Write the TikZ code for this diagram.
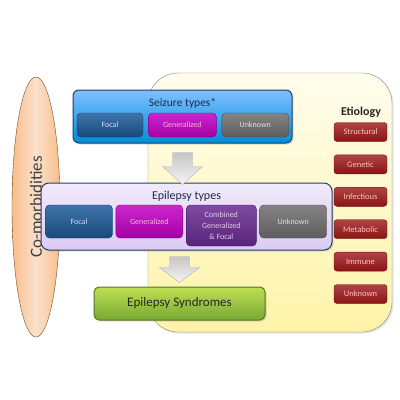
\documentclass[tikz,border=0pt]{standalone}
\usepackage{fontspec}
\setmainfont{Carlito}
\usetikzlibrary{positioning,calc,shapes.geometric,shadows}

\definecolor{navyline}{HTML}{1F3F70}
\definecolor{titletext}{HTML}{1C2B50}
\definecolor{focalblue}{HTML}{1E5C9A}
\definecolor{genmagenta}{HTML}{C200C2}
\definecolor{unkgray}{HTML}{6E6E6E}
\definecolor{combpurple}{HTML}{682A90}
\definecolor{causered}{HTML}{9A1616}
\definecolor{synggreen}{HTML}{8CC63A}
\definecolor{peach}{HTML}{F7C9A2}
\definecolor{lavender}{HTML}{DCCBF3}
\definecolor{paleyellow}{HTML}{FFF3A8}

\tikzstyle{group} = [rectangle, rounded corners=6pt, draw=navyline, line width=1pt, drop shadow={opacity=0.25, shadow xshift=1.5pt, shadow yshift=-1.5pt}]
\tikzstyle{grouptitle} = [text=titletext, font=\fontsize{11.5}{14}\selectfont]
\tikzstyle{subtype} = [rectangle, rounded corners=4pt, minimum height=24pt, text centered, inner sep=1pt, font=\fontsize{8}{11}\selectfont]
\tikzstyle{cause} = [rectangle, rounded corners=3pt, minimum width=53pt, minimum height=19pt, draw=causered!70!black, top color=causered!80!white, bottom color=causered!90!black, text=red!25!white, font=\fontsize{8.5}{10}\selectfont, inner sep=1pt]
\tikzstyle{blockarrow} = [draw=gray!60, top color=gray!45, bottom color=gray!8]

\begin{document}
\begin{tikzpicture}[x=1pt, y=-1pt, node distance=13pt]
\useasboundingbox (0,0) rectangle (400,400);
\fill [white] (0,0) rectangle (400,400);

% co-morbidities and etiology background
\node (comorb) [ellipse, minimum width=48pt, minimum height=260pt, inner sep=0pt, draw=brown!60!black, left color=peach!85!orange, right color=peach!85!orange, middle color=peach!55!white, text=black!75, font=\fontsize{17}{20}\selectfont] at (36,207) {\rotatebox{90}{Co-morbidities}};
\node (area) [rectangle, rounded corners=30pt, minimum width=244pt, minimum height=259pt, draw=gray!70!brown, top color=paleyellow!20!white, bottom color=paleyellow, drop shadow={opacity=0.2, shadow xshift=1.5pt, shadow yshift=-1.5pt}] at (270,202.5) {};

% seizure types
\node (seizure) [group, minimum width=219pt, minimum height=53pt, top color=cyan!50!blue!50!white, bottom color=blue!35!cyan!85!black] at (182.5,116.5) {};
\node (stitle) [grouptitle] at (182.5,103) {Seizure types*};
\node (sfocal) [subtype, minimum width=66pt, draw=focalblue!70!black, top color=focalblue!85!white, bottom color=focalblue!80!black, text=blue!15!white] at (110,125) {Focal};
\node (sgen) [subtype, minimum width=68pt, right=5pt of sfocal, draw=genmagenta!70!black, top color=genmagenta!85!white, bottom color=genmagenta!85!black, text=magenta!30!white] {Generalized};
\node (sunk) [subtype, minimum width=67pt, right=5pt of sgen, draw=unkgray!70!black, top color=unkgray!85!white, bottom color=unkgray!85!black, text=black!12] {Unknown};

% epilepsy types
\node (epilepsy) [group, rounded corners=8pt, minimum width=291pt, minimum height=67pt, top color=lavender!40!white, bottom color=lavender] at (186.5,216.5) {};
\node (etitle) [grouptitle, font=\fontsize{12}{14}\selectfont] at (186.5,196) {Epilepsy types};
\node (efocal) [subtype, minimum width=67pt, minimum height=33pt, draw=focalblue!70!black, top color=focalblue!85!white, bottom color=focalblue!80!black, text=blue!15!white] at (79,221.5) {Focal};
\node (egen) [subtype, minimum width=67pt, minimum height=33pt, right=3pt of efocal, draw=genmagenta!70!black, top color=genmagenta!85!white, bottom color=genmagenta!85!black, text=magenta!30!white] {Generalized};
\node (ecomb) [subtype, minimum width=70pt, minimum height=41pt, align=center, right=3pt of egen.north east, anchor=north west, draw=combpurple!70!black, top color=combpurple!85!white, bottom color=combpurple!85!black, text=violet!20!white] {Combined\\Generalized\\\& Focal};
\node (eunk) [subtype, minimum width=67pt, minimum height=33pt, right=3pt of ecomb.north east, anchor=north west, draw=unkgray!70!black, top color=unkgray!85!white, bottom color=unkgray!85!black, text=black!12] {Unknown};

% epilepsy syndromes
\node (syndromes) [group, rounded corners=5pt, draw=synggreen!60!black, minimum width=171pt, minimum height=33pt, top color=synggreen!70!yellow!80!white, bottom color=synggreen!85!black, text=black!85, font=\fontsize{13}{15}\selectfont] at (179.5,303.5) {Epilepsy Syndromes};

% etiology
\node (etiology) [text=black!85, font=\bfseries\fontsize{12}{14}\selectfont] at (361,112) {Etiology};
\node (structural) [cause] at (360.5,132) {Structural};
\node (genetic) [cause, below=of structural] {Genetic};
\node (infectious) [cause, below=of genetic] {Infectious};
\node (metabolic) [cause, below=of infectious] {Metabolic};
\node (immune) [cause, below=of metabolic] {Immune};
\node (unknown) [cause, below=of immune] {Unknown};

% block arrows
\draw [blockarrow] ($(seizure.south)+(-10,9)$) -- ++(20,0) -- ++(0,14) -- ++(10,0) -- ++(-20,18) -- ++(-20,-18) -- ++(10,0) -- cycle;
\draw [blockarrow] ($(syndromes.north)+(-10,-30)$) -- ++(20,0) -- ++(0,11) -- ++(10,0) -- ++(-20,15) -- ++(-20,-15) -- ++(10,0) -- cycle;

\end{tikzpicture}
\end{document}
